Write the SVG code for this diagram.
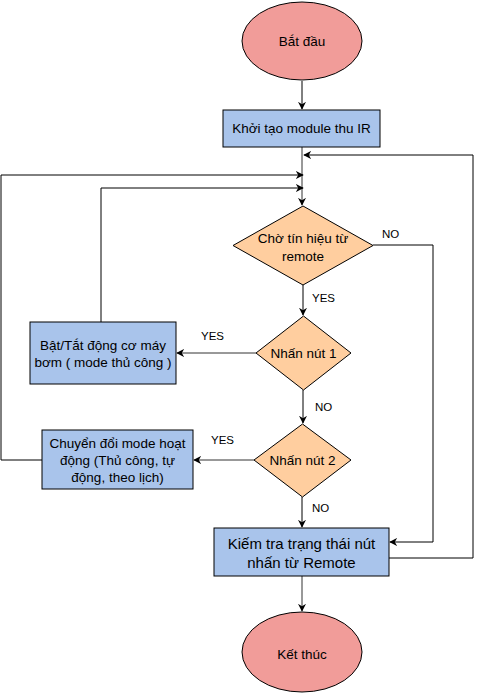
<svg xmlns="http://www.w3.org/2000/svg" width="482" height="695" viewBox="0 0 482 695">
<defs>
<style>
.term{fill:#F19C99;stroke:#000;stroke-width:1}
.proc{fill:#A9C4EB;stroke:#000;stroke-width:1}
.dec{fill:#FFCE9F;stroke:#000;stroke-width:1}
.t{font-family:"Liberation Sans",Arial,sans-serif;font-size:13.5px;fill:#000;text-anchor:middle;dominant-baseline:central}
.t14{font-size:15px}
.lbl{font-family:"Liberation Sans",Arial,sans-serif;font-size:11.5px;fill:#000}
.c{fill:none;stroke:#000;stroke-width:1}
.cg{fill:none;stroke:#333;stroke-width:1}
</style>
<marker id="arr" viewBox="0 0 10 10" refX="9" refY="5" markerWidth="8" markerHeight="8" markerUnits="userSpaceOnUse" orient="auto">
<path d="M0,0 L10,5 L0,10 L3,5 z" fill="#000"/>
</marker>
</defs>
<rect width="482" height="695" fill="#fff"/>
<g id="connectors">
<path class="c" d="M302,81 L302,109" marker-end="url(#arr)"/>
<path class="cg" d="M302,147 L302,205" marker-end="url(#arr)"/>
<path class="c" d="M389,558 L473,558 L473,155 L304,155" marker-end="url(#arr)"/>
<path class="c" d="M42,460 L1,460 L1,175 L303,175" marker-end="url(#arr)"/>
<path class="c" d="M101,322 L101,188 L303,188" marker-end="url(#arr)"/>
<path class="c" d="M373,245 L433,245 L433,542 L390,542" marker-end="url(#arr)"/>
<path class="c" d="M303,285 L303,315" marker-end="url(#arr)"/>
<path class="cg" d="M256,353 L177,353" marker-end="url(#arr)"/>
<path class="c" d="M303,390 L303,423" marker-end="url(#arr)"/>
<path class="cg" d="M254,460 L194,460" marker-end="url(#arr)"/>
<path class="c" d="M302,497 L302,527" marker-end="url(#arr)"/>
<path class="cg" d="M302,576 L302,611" marker-end="url(#arr)"/>
<text class="lbl" x="382" y="238">NO</text>
<text class="lbl" x="312" y="302">YES</text>
<text class="lbl" x="201" y="340">YES</text>
<text class="lbl" x="315" y="411">NO</text>
<text class="lbl" x="211" y="444">YES</text>
<text class="lbl" x="312" y="512">NO</text>
</g>
<g id="start">
<ellipse class="term" cx="302" cy="41" rx="60" ry="39"/>
<text class="t" x="302" y="41">Bắt đầu</text>
</g>
<g id="init">
<rect class="proc" x="223" y="110" width="157" height="37"/>
<text class="t" x="301.5" y="128.5">Khởi tạo module thu IR</text>
</g>
<g id="wait">
<polygon class="dec" points="303,206 373,245.5 303,285 233,245.5"/>
<text class="t" x="303" y="238">Chờ tín hiệu từ</text>
<text class="t" x="303" y="256">remote</text>
</g>
<g id="btn1">
<polygon class="dec" points="303.5,316 351,353 303.5,390 256,353"/>
<text class="t" x="303.5" y="353">Nhấn nút 1</text>
</g>
<g id="pump">
<rect class="proc" x="30" y="322" width="146" height="62"/>
<text class="t" x="103" y="345">Bật/Tắt động cơ máy</text>
<text class="t" x="103" y="362">bơm ( mode thủ công )</text>
</g>
<g id="btn2">
<polygon class="dec" points="302.5,424 351,460 302.5,497 254,460"/>
<text class="t" x="302.5" y="460">Nhấn nút 2</text>
</g>
<g id="mode">
<rect class="proc" x="42" y="430" width="151" height="59"/>
<text class="t" x="117.5" y="443">Chuyển đổi mode hoạt</text>
<text class="t" x="117.5" y="460">động (Thủ công, tự</text>
<text class="t" x="117.5" y="477">động, theo lịch)</text>
</g>
<g id="check">
<rect class="proc" x="214" y="528" width="175" height="48"/>
<text class="t t14" x="301.5" y="543">Kiếm tra trạng thái nút</text>
<text class="t t14" x="301.5" y="562">nhấn từ Remote</text>
</g>
<g id="end">
<ellipse class="term" cx="302" cy="652" rx="60" ry="40"/>
<text class="t" x="302" y="654">Kết thúc</text>
</g>
</svg>
